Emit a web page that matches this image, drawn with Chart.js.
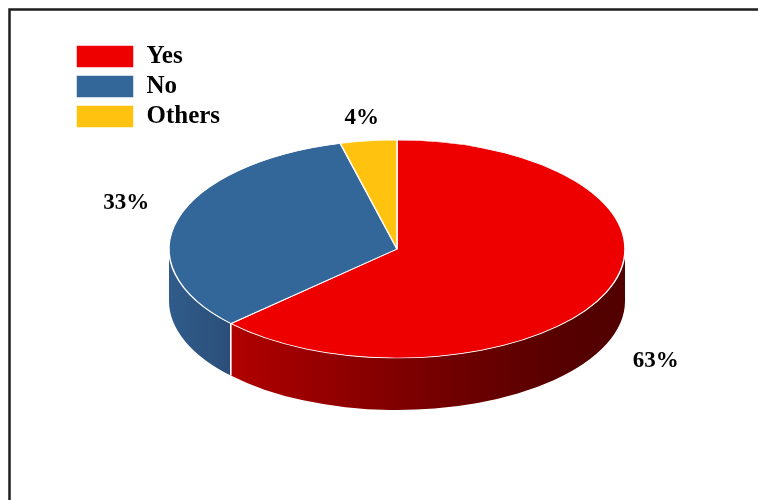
<!DOCTYPE html>
<html lang="en">
<head>
    <meta charset="UTF-8">
    <title>Yes / No / Others</title>
    <script src="https://cdn.jsdelivr.net/npm/chart.js@4.4.1/dist/chart.umd.min.js"></script>
    <style>
        body {
            margin: 0;
            background: #fff;
            overflow: hidden;
        }

        #chartBox {
            position: relative;
            width: 758px;
            height: 500px;
        }
    </style>
</head>
<body>
    <div id="chartBox"><canvas id="pieCanvas"></canvas></div>

    <script>
        const categories = ['Yes', 'No', 'Others'];
        const shares = [63, 33, 4];

        const topColors = ['#ee0000', '#336699', '#ffc20e'];
        // side wall shading, stops across the full width of the pie
        const sideStops = [
            [[0, '#b40000'], [0.14, '#b00000'], [0.62, '#700000'], [0.86, '#560000'], [1, '#520000']],
            [[0, '#305c8b'], [0.14, '#2b4e78'], [1, '#2b4e78']],
            [[0, '#d9a000'], [1, '#b08000']]
        ];

        // parts of an arc that face the viewer (lower half of the ellipse)
        function frontParts(a, b) {
            const parts = [];
            for (let k = -1; k <= 1; k++) {
                const lo = Math.max(a, 2 * Math.PI * k);
                const hi = Math.min(b, 2 * Math.PI * k + Math.PI);
                if (hi > lo) parts.push([lo, hi]);
            }
            return parts;
        }

        const pie3d = {
            id: 'pie3d',
            beforeDraw(chart, args, opts) {
                // frame, only top and left edges are in view
                const ctx = chart.ctx;
                ctx.save();
                ctx.strokeStyle = '#1e1e1e';
                ctx.lineWidth = 2.5;
                ctx.beginPath();
                ctx.moveTo(9.5, chart.height);
                ctx.lineTo(9.5, 9.5);
                ctx.lineTo(chart.width, 9.5);
                ctx.stroke();
                ctx.restore();
            },
            beforeDatasetsDraw(chart, args, opts) {
                const ctx = chart.ctx;
                const meta = chart.getDatasetMeta(0);
                const {cx, cy, rx, ry, depth} = opts;

                ctx.save();
                meta.data.forEach((arc, i) => {
                    frontParts(arc.startAngle, arc.endAngle).forEach(([lo, hi]) => {
                        const g = ctx.createLinearGradient(cx - rx, 0, cx + rx, 0);
                        sideStops[i].forEach(([t, c]) => g.addColorStop(t, c));
                        ctx.beginPath();
                        ctx.ellipse(cx, cy, rx, ry, 0, lo, hi, false);
                        ctx.ellipse(cx, cy + depth, rx, ry, 0, hi, lo, true);
                        ctx.closePath();
                        ctx.fillStyle = g;
                        ctx.fill();
                    });
                });
                // seams between slices on the wall
                ctx.strokeStyle = '#ffffff';
                ctx.lineWidth = 1.2;
                meta.data.forEach(arc => {
                    [arc.startAngle, arc.endAngle].forEach(t => {
                        const s = Math.sin(t);
                        if (s > 0.02) {
                            const x = cx + rx * Math.cos(t);
                            const y = cy + ry * s;
                            ctx.beginPath();
                            ctx.moveTo(x, y);
                            ctx.lineTo(x, y + depth);
                            ctx.stroke();
                        }
                    });
                });
                ctx.restore();

                // flatten the pie drawn by Chart.js onto the top ellipse
                const arc0 = meta.data[0];
                const R = arc0.outerRadius;
                ctx.save();
                ctx.translate(cx, cy);
                ctx.scale(rx / R, ry / R);
                ctx.translate(-arc0.x, -arc0.y);
            },
            afterDatasetsDraw(chart) {
                chart.ctx.restore();
            },
            afterDraw(chart, args, opts) {
                const ctx = chart.ctx;
                const meta = chart.getDatasetMeta(0);
                const {cx, cy, rx, ry, depth} = opts;
                ctx.save();
                ctx.font = 'bold 23px "Liberation Serif", "Times New Roman", serif';
                ctx.fillStyle = '#000';
                ctx.textAlign = 'center';
                ctx.textBaseline = 'middle';
                meta.data.forEach((arc, i) => {
                    const mid = (arc.startAngle + arc.endAngle) / 2;
                    const c = Math.cos(mid);
                    const s = Math.sin(mid);
                    const x = cx + (rx + 54) * c;
                    const y = cy + (ry + 10) * s + Math.sign(s) * 13 + (s > 0 ? depth : 0);
                    ctx.fillText(shares[i] + '%', x, y);
                });
                ctx.restore();
            }
        };

        const ctx = document.getElementById('pieCanvas').getContext('2d');
        new Chart(ctx, {
            type: 'pie',
            data: {
                labels: categories,
                datasets: [{
                    data: shares,
                    backgroundColor: topColors,
                    borderColor: '#ffffff',
                    borderWidth: 1.5,
                    clip: false
                }]
            },
            options: {
                responsive: true,
                maintainAspectRatio: false,
                animation: false,
                layout: {
                    padding: { left: 71, top: 39, right: 20, bottom: 20 }
                },
                plugins: {
                    legend: {
                        position: 'left',
                        align: 'start',
                        labels: {
                            boxWidth: 58,
                            boxHeight: 23,
                            padding: 5,
                            color: '#000',
                            font: {
                                family: '"Liberation Serif", "Times New Roman", serif',
                                size: 25,
                                weight: 'bold'
                            }
                        }
                    },
                    tooltip: { enabled: false },
                    pie3d: { cx: 397, cy: 249, rx: 228, ry: 109, depth: 52 }
                }
            },
            plugins: [pie3d]
        });
    </script>
</body>
</html>
